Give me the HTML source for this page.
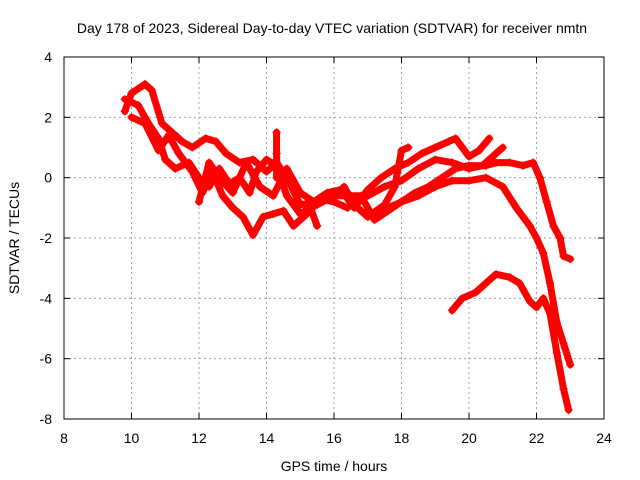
<!DOCTYPE html>
<html><head><meta charset="utf-8"><style>
body{margin:0;background:#fff}
svg{display:block;font-family:"Liberation Sans",sans-serif}
</style></head><body>
<svg id="chart" width="640" height="480" viewBox="0 0 640 480">
<rect width="640" height="480" fill="#fff"/>
<text x="332" y="33" font-size="14" text-anchor="middle">Day 178 of 2023, Sidereal Day-to-day VTEC variation (SDTVAR) for receiver nmtn</text>
<text x="334" y="471" font-size="14" text-anchor="middle">GPS time / hours</text>
<text transform="translate(19,238) rotate(-90)" font-size="14" text-anchor="middle">SDTVAR / TECUs</text>
<g id="grid"></g><g id="marks"></g><g id="axes"></g>
</svg>
<script>
const xTicks=[8,10,12,14,16,18,20,22,24];
const yTicks=[4,2,0,-2,-4,-6,-8];
const t1x=[9.8,10.0,10.4,10.6,10.9,11.2,11.5,11.8,12.2,12.5,12.8,13.2,13.6,14.0,14.3,14.6,15.0,15.5,16.0,16.3,16.6,17.0,17.5,17.8,18.0,18.2];
const t1y=[2.2,2.8,3.1,2.9,1.8,1.5,1.2,1.0,1.3,1.2,0.8,0.5,0.6,0.2,0.5,0.0,-0.9,-0.8,-0.6,-0.3,-0.9,-1.3,-0.9,-0.3,0.9,1.0];
const t2x=[9.8,10.2,10.5,10.8,11.0,11.3,11.7,12.0,12.3,12.6,12.9,13.2,13.5,13.7,14.0,14.3,14.6,15.0,15.3,15.5];
const t2y=[2.6,2.4,1.8,1.3,0.6,0.3,0.5,0.0,-0.3,0.3,-0.2,0.0,-0.5,0.2,0.6,0.4,-0.6,-1.2,-1.0,-1.6];
const t3x=[10.0,10.4,10.8,11.1,11.4,11.8,12.1,12.4,12.7,13.0,13.3,13.6,13.9,14.2,14.5,14.8,15.2,15.6,16.0,16.4,16.8,17.2,17.6,18.0,18.4,18.8,19.2,19.6,20.0,20.5,20.8,21.2,21.6,21.9,22.1,22.3,22.5,22.7,22.8,23.0];
const t3y=[2.0,1.8,0.9,1.4,0.8,0.2,-0.5,0.2,-0.6,-1.0,-1.3,-1.9,-1.3,-1.2,-1.1,-1.6,-1.2,-0.7,-0.8,-1.0,-0.6,-1.4,-1.1,-0.8,-0.5,-0.3,0.0,0.3,0.4,0.4,0.5,0.5,0.4,0.5,0.0,-0.8,-1.6,-2.0,-2.6,-2.7];
const t4x=[12.0,12.3,12.6,13.0,13.4,13.8,14.2,14.6,15.0,15.4,15.8,16.2,16.6,17.0,17.4,17.8,18.2,18.6,19.0,19.4,19.6,19.8,20.0,20.3,20.6];
const t4y=[-0.8,0.5,0.0,-0.5,0.5,-0.3,-0.6,0.3,-0.5,-0.8,-0.5,-0.4,-1.0,-0.4,0.0,0.3,0.5,0.8,1.0,1.2,1.3,1.0,0.7,0.9,1.3];
const t5x=[15.5,16.0,16.5,17.0,17.5,18.0,18.5,19.0,19.5,20.0,20.4,20.8,21.0];
const t5y=[-0.9,-0.6,-0.6,-0.6,-0.3,-0.1,0.3,0.6,0.5,0.3,0.4,0.8,1.0];
const t6x=[17.2,17.6,18.0,18.5,19.0,19.5,20.0,20.5,21.0,21.4,21.8,22.0,22.2,22.4,22.6,22.8,23.0];
const t6y=[-1.2,-1.0,-0.8,-0.6,-0.3,-0.1,-0.1,0.0,-0.3,-1.0,-1.6,-2.0,-2.5,-3.5,-4.8,-5.5,-6.2];
const t7x=[19.5,19.8,20.2,20.5,20.8,21.2,21.5,21.8,22.0,22.2,22.4,22.6,22.8,22.95];
const t7y=[-4.4,-4.0,-3.8,-3.5,-3.2,-3.3,-3.5,-4.1,-4.3,-4.0,-4.5,-5.8,-7.0,-7.7];
const t8x=[14.3,14.3,14.3];
const t8y=[0.0,0.8,1.5];
const series=[[t1x,t1y],[t2x,t2y],[t3x,t3y],[t4x,t4y],[t5x,t5y],[t6x,t6y],[t7x,t7y],[t8x,t8y]];
const L=64,R=604,T=57,B=419;
const X=v=>L+(v-8)/16*(R-L);
const Y=v=>T+(4-v)/12*(B-T);
const NS='http://www.w3.org/2000/svg';
function mk(tag,a,p){const e=document.createElementNS(NS,tag);for(const k in a)e.setAttribute(k,a[k]);p.appendChild(e);return e;}
const grid=document.getElementById('grid'),axes=document.getElementById('axes'),marks=document.getElementById('marks');
xTicks.forEach(v=>{
 if(v>8&&v<24){const g=mk('line',{x1:X(v),x2:X(v),y1:T,y2:B,stroke:'#a0a0a0','stroke-dasharray':'2,3'},grid);
 
 }
 const t=mk('line',{x1:X(v),x2:X(v),y1:B,y2:B-6,stroke:'#000'},axes);
 
 
 const t2=mk('line',{x1:X(v),x2:X(v),y1:T,y2:T+6,stroke:'#000'},axes);
 
 
 const l=mk('text',{x:X(v),y:B+24,'font-size':14,'text-anchor':'middle'},axes);l.textContent=v;
 
 
});
yTicks.forEach(v=>{
 if(v<4&&v>-8){const g=mk('line',{x1:L,x2:R,y1:Y(v),y2:Y(v),stroke:'#a0a0a0','stroke-dasharray':'2,3'},grid);
 
 }
 const t=mk('line',{x1:L,x2:L+6,y1:Y(v),y2:Y(v),stroke:'#000'},axes);
 
 
 const t2=mk('line',{x1:R,x2:R-6,y1:Y(v),y2:Y(v),stroke:'#000'},axes);
 
 
 const l=mk('text',{x:L-12,y:Y(v)+5,'font-size':14,'text-anchor':'end'},axes);l.textContent=v;
 
 
});
const fr=mk('rect',{x:L,y:T,width:R-L,height:B-T,fill:'none',stroke:'#000'},axes);


series.forEach((s,i)=>{
 const [xs,ys]=s;
 const d=xs.map((x,j)=>(j?'L':'M')+X(x).toFixed(1)+','+Y(ys[j]).toFixed(1)).join(' ');
 const p=mk('path',{d:d,fill:'none',stroke:'#ff0000','stroke-width':7,'stroke-linejoin':'round','stroke-linecap':'round'},marks);
 
 
 xs.forEach((x,j)=>{
  const cx=X(x),cy=Y(ys[j]);
  const m=mk('path',{d:`M${cx-4},${cy}H${cx+4}M${cx},${cy-4}V${cy+4}`,stroke:'#ff0000','stroke-width':1.5},marks);
  
  
 });
});
</script>
</body></html>
